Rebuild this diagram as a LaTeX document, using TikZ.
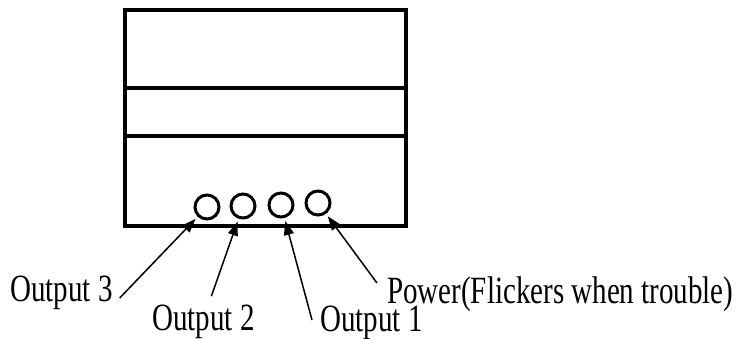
\documentclass[tikz,border=0pt]{standalone}
\usepackage{fontspec}
\setmainfont{Liberation Serif}
\usetikzlibrary{arrows.meta}

\begin{document}
\begin{tikzpicture}[x=1pt, y=-1pt,
  every node/.style={font=\fontsize{29}{29}\selectfont},
  lbl/.style={inner sep=0pt, yscale=1.33, transform shape},
  led/.style={circle, draw, line width=3pt, inner sep=0pt, minimum size=24pt},
  pin/.style={-{Triangle[length=14pt, width=10pt]}, line width=1.5pt, shorten >=3pt}]

  \useasboundingbox (0,0) rectangle (742,338);

  %% Housing with two dividers
  \draw[line width=3.8pt] (125,10) rectangle (406,226);
  \draw[line width=3.8pt] (125,88) -- (406,88);
  \draw[line width=3.8pt] (125,136) -- (406,136);

  %% Indicator lamps
  \node[led] (led3) at (207,207) {};
  \node[led] (led2) at (243,206) {};
  \node[led] (led1) at (281,205) {};
  \node[led] (pwr)  at (318,203) {};

  %% Labels
  \node[lbl, anchor=base west] (o3lbl) at (10,301) {Output 3};
  \node[lbl, anchor=base west] (o2lbl) at (152,330) {Output 2};
  \node[lbl, anchor=base west] (o1lbl) at (320,331) {Output 1};
  \node[lbl, anchor=base west] (pwrlbl) at (387,303) {Power(Flickers when trouble)};

  %% Leaders
  \draw[pin] ([xshift=7pt, yshift=3pt]o3lbl.base east) -- (led3);
  \draw[pin] ([xshift=8pt, yshift=8pt]o2lbl.north) -- (led2);
  \draw[pin] ([xshift=-8pt, yshift=11pt]o1lbl.base west) -- (led1);
  \draw[pin] ([xshift=-10pt, yshift=20pt]pwrlbl.base west) -- (pwr);

\end{tikzpicture}
\end{document}
